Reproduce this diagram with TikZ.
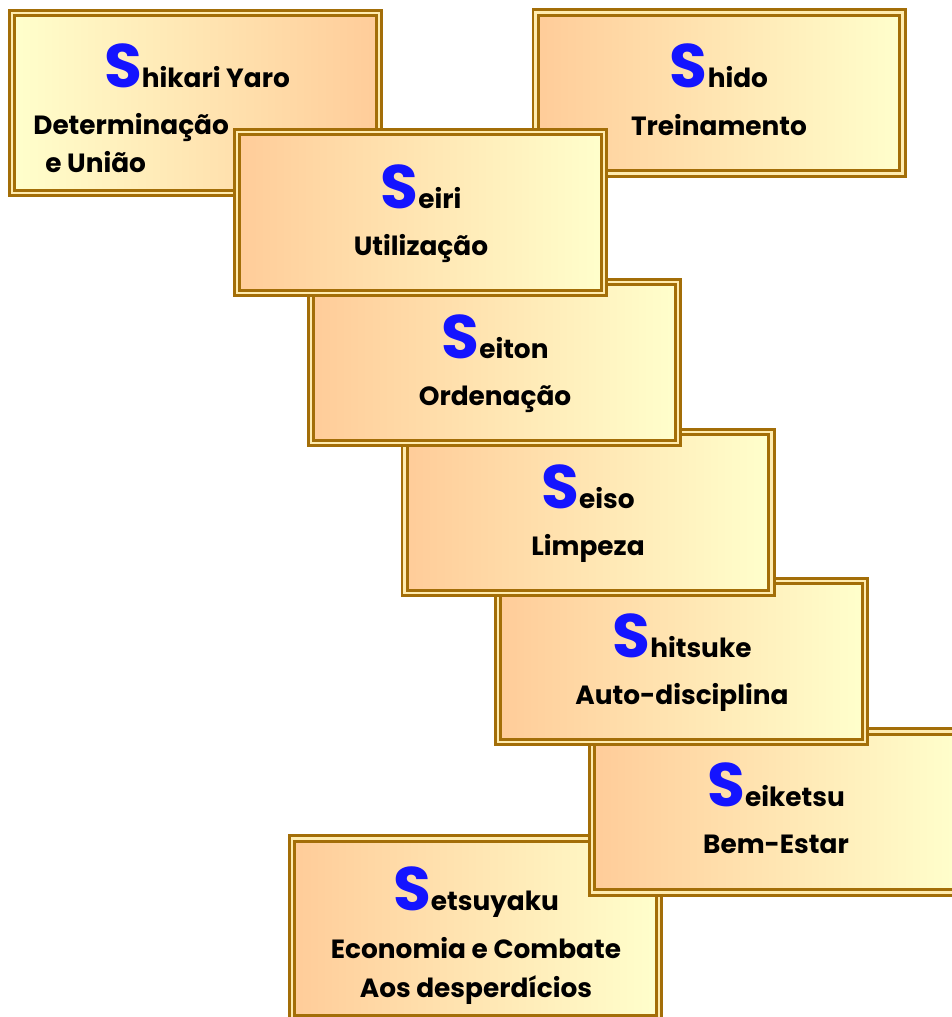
\documentclass[tikz,border=0pt]{standalone}
\usepackage{fontspec}
\setmainfont{Poppins}
\definecolor{pale orange}{RGB}{255,204,153}
\definecolor{pale yellow}{RGB}{255,255,204}
\definecolor{frame brown}{RGB}{163,110,8}
\definecolor{frame gap}{RGB}{255,236,176}
\definecolor{letter blue}{RGB}{20,20,255}
\newcommand{\Sword}[1]{{\color{letter blue}\fontsize{35}{35}\selectfont S}#1}
\tikzset{
  sbox/.style={rectangle, draw=frame brown, line width=1.6pt, double=frame gap, double distance=1.4pt, minimum width=7.34cm, minimum height=3.22cm, inner sep=0pt},
  sbox warm/.style={sbox, left color=pale orange, right color=pale yellow},
  sbox cool/.style={sbox, left color=pale yellow, right color=pale orange},
  sbox tall/.style={minimum height=3.6cm},
  title/.style={font=\bfseries\fontsize{15}{22}\selectfont, anchor=base, inner sep=0pt},
  meaning/.style={font=\bfseries\fontsize{15}{21.5}\selectfont, anchor=base, align=center, inner sep=0pt}
}

\begin{document}
\begin{tikzpicture}[x=0.02cm, y=-0.02cm]
  \useasboundingbox (0,0) rectangle (952,1017);
  \clip (0,0) rectangle (952,1017);

  % multi-line texts sit on the baseline of their last line
  \node[sbox cool, sbox tall] at (195.5,103) (shikari) {};
  \node[title] at (197,88) (shikari title) {\Sword{hikari Yaro}};
  \node[meaning, align=left, anchor=base west] at (33,172) (shikari meaning) {Determinação\\\hspace*{0.24cm}e União};

  \node[sbox warm] at (719,93) (shido) {};
  \node[title] at (719,88) (shido title) {\Sword{hido}};
  \node[meaning] at (719,135) (shido meaning) {Treinamento};

  \node[sbox warm, sbox tall] at (475.5,928.5) (setsuyaku) {};
  \node[title] at (476,910) (setsuyaku title) {\Sword{etsuyaku}};
  \node[meaning, font=\bfseries\fontsize{15}{22.2}\selectfont] at (476,997) (setsuyaku meaning) {Economia e Combate\\Aos desperdícios};

  \node[sbox warm] at (775.5,812) (seiketsu) {};
  \node[title] at (776,806) (seiketsu title) {\Sword{eiketsu}};
  \node[meaning] at (776,853) (seiketsu meaning) {Bem-Estar};

  \node[sbox warm] at (681.5,661.5) (shitsuke) {};
  \node[title] at (682,657) (shitsuke title) {\Sword{hitsuke}};
  \node[meaning] at (682,704) (shitsuke meaning) {Auto-disciplina};

  \node[sbox warm] at (588,512.5) (seiso) {};
  \node[title] at (588,508) (seiso title) {\Sword{eiso}};
  \node[meaning] at (588,555) (seiso meaning) {Limpeza};

  \node[sbox warm] at (494.5,362.5) (seiton) {};
  \node[title] at (495,358) (seiton title) {\Sword{eiton}};
  \node[meaning] at (495,405) (seiton meaning) {Ordenação};

  \node[sbox warm] at (420.5,212.5) (seiri) {};
  \node[title] at (421,208) (seiri title) {\Sword{eiri}};
  \node[meaning] at (421,255) (seiri meaning) {Utilização};
\end{tikzpicture}
\end{document}
